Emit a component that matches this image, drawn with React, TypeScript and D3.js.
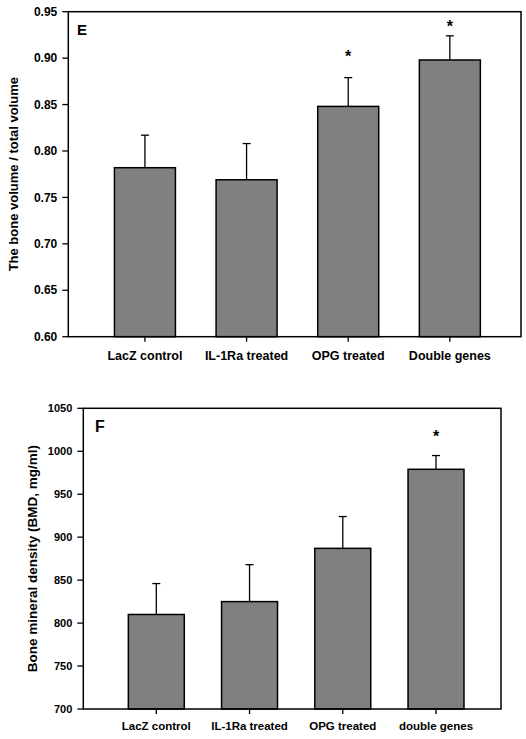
import React from "react";
import * as d3 from "d3";

const categoriesE = ["LacZ control", "IL-1Ra treated", "OPG treated", "Double genes"];
const valuesE = [0.782, 0.769, 0.848, 0.898];
const errorsE = [0.035, 0.039, 0.031, 0.026];
const sigE = [null, null, 0.905, 0.9375];
const ticksE = [0.6, 0.65, 0.7, 0.75, 0.8, 0.85, 0.9, 0.95];

const categoriesF = ["LacZ control", "IL-1Ra treated", "OPG treated", "double genes"];
const valuesF = [810, 825, 887, 979];
const errorsF = [36, 43, 37, 16];
const sigF = [null, null, null, 1021];
const ticksF = [700, 750, 800, 850, 900, 950, 1000, 1050];

const FONT = "Arial, 'Liberation Sans', sans-serif";

type PanelProps = {
  letter: string;
  categories: string[];
  values: number[];
  errors: number[];
  sig: (number | null)[];
  ticks: number[];
  fmt: (v: number) => string;
  yDomain: [number, number];
  xDomain: [number, number];
  left: number;
  right: number;
  top: number;
  bottom: number;
  yLabel: string;
  yLabelX: number;
  tickFont: number;
  xLabelFont: number;
  xLabelDy: number;
  yLabelFont: number;
  letterFont: number;
  letterX: number;
  letterY: number;
};

function Panel(p: PanelProps) {
  const y = d3.scaleLinear().domain(p.yDomain).range([p.bottom, p.top]);
  const x = d3.scaleLinear().domain(p.xDomain).range([p.left, p.right]);
  const half = 0.3;
  const capHalf = 4;
  return (
    <g>
      {p.values.map((v, i) => {
        const x0 = x(i - half);
        const x1 = x(i + half);
        const cx = x(i);
        const topY = y(v + p.errors[i]);
        return (
          <g key={i}>
            <line x1={cx} x2={cx} y1={y(v)} y2={topY} stroke="#000" strokeWidth={1.3} />
            <line x1={cx - capHalf} x2={cx + capHalf} y1={topY} y2={topY} stroke="#000" strokeWidth={1.3} />
            <rect x={x0} y={y(v)} width={x1 - x0} height={p.bottom - y(v)} fill="#808080" stroke="#000" strokeWidth={1.5} />
            {p.sig[i] != null && (
              <text x={cx} y={y(p.sig[i] as number) + 9} textAnchor="middle" fontFamily={FONT} fontWeight="bold" fontSize={16} fill="#000">*</text>
            )}
          </g>
        );
      })}
      <rect x={p.left} y={p.top} width={p.right - p.left} height={p.bottom - p.top} fill="none" stroke="#000" strokeWidth={1.5} />
      {p.ticks.map((t) => (
        <g key={t}>
          <line x1={p.left - 6} x2={p.left} y1={y(t)} y2={y(t)} stroke="#000" strokeWidth={1.3} />
          <text x={p.left - 11} y={y(t)} dy="0.35em" textAnchor="end" fontFamily={FONT} fontWeight="bold" fontSize={p.tickFont} fill="#000">{p.fmt(t)}</text>
        </g>
      ))}
      {p.categories.map((c, i) => (
        <g key={c}>
          <line x1={x(i)} x2={x(i)} y1={p.bottom} y2={p.bottom + 5} stroke="#000" strokeWidth={1.3} />
          <text x={x(i)} y={p.bottom + p.xLabelDy} textAnchor="middle" fontFamily={FONT} fontWeight="bold" fontSize={p.xLabelFont} fill="#000">{c}</text>
        </g>
      ))}
      <text
        transform={`translate(${p.yLabelX},${(p.top + p.bottom) / 2}) rotate(-90)`}
        textAnchor="middle"
        dy="0.35em"
        fontFamily={FONT}
        fontWeight="bold"
        fontSize={p.yLabelFont}
        fill="#000"
      >
        {p.yLabel}
      </text>
      <text x={p.letterX} y={p.letterY} fontFamily={FONT} fontWeight="bold" fontSize={p.letterFont} fill="#000">{p.letter}</text>
    </g>
  );
}

export default function App() {
  return (
    <svg width={526} height={739} style={{ position: "absolute", left: 0, top: 0, background: "#fff" }}>
      <rect width={526} height={739} fill="#fff" />
      <Panel
        letter="E"
        categories={categoriesE}
        values={valuesE}
        errors={errorsE}
        sig={sigE}
        ticks={ticksE}
        fmt={d3.format(".2f")}
        yDomain={[0.6, 0.95]}
        xDomain={[-0.754, 3.7]}
        left={68.3}
        right={521}
        top={11.7}
        bottom={336.7}
        yLabel="The bone volume / total volume"
        yLabelX={13}
        tickFont={12}
        xLabelFont={12.5}
        xLabelDy={23}
        yLabelFont={13}
        letterFont={15}
        letterX={77}
        letterY={35}
      />
      <Panel
        letter="F"
        categories={categoriesF}
        values={valuesF}
        errors={errorsF}
        sig={sigF}
        ticks={ticksF}
        fmt={d3.format("d")}
        yDomain={[700, 1050]}
        xDomain={[-0.783, 3.697]}
        left={83.3}
        right={501}
        top={408.3}
        bottom={709}
        yLabel="Bone mineral density (BMD, mg/ml)"
        yLabelX={32}
        tickFont={11}
        xLabelFont={11.5}
        xLabelDy={21}
        yLabelFont={13.5}
        letterFont={16}
        letterX={95}
        letterY={432}
      />
    </svg>
  );
}
